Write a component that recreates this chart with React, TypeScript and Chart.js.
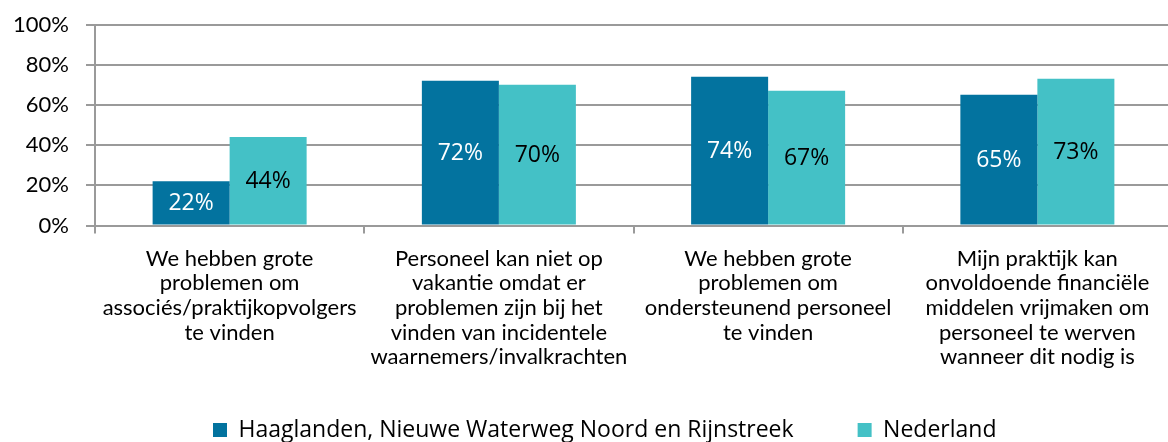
import { useEffect, useRef } from 'react';
import { Chart, registerables } from 'chart.js';

Chart.register(...registerables);

const categories: string[][] = [
  ['We hebben grote', 'problemen om', 'associés/praktijkopvolgers', 'te vinden'],
  ['Personeel kan niet op', 'vakantie omdat er', 'problemen zijn bij het', 'vinden van incidentele', 'waarnemers/invalkrachten'],
  ['We hebben grote', 'problemen om', 'ondersteunend personeel', 'te vinden'],
  ['Mijn praktijk kan', 'onvoldoende financiële', 'middelen vrijmaken om', 'personeel te werven', 'wanneer dit nodig is'],
];
const seriesNames = ['Haaglanden, Nieuwe Waterweg Noord en Rijnstreek', 'Nederland'];
const haaglanden = [22, 72, 74, 65];
const nederland = [44, 70, 67, 73];
const seriesColors = ['#03739F', '#44C1C6'];
const labelColors = ['#ffffff', '#000000'];
const yMin = 0;
const yMax = 100;
const yStep = 20;

const AXIS_FONT = 'Lato';
const LEGEND_FONT = 'Open Sans';
const LEGEND_PAD = 64;
const LEGEND_SIZE = 23;
const X_AXIS_H = 146.5;
const CANVAS_W = 1180;
const CANVAS_H = Math.round(225.5 + X_AXIS_H + LEGEND_SIZE + LEGEND_PAD + 10);

const valueLabels = {
  id: 'valueLabels',
  afterDatasetsDraw(chart: any) {
    const ctx = chart.ctx;
    chart.data.datasets.forEach((ds: any, di: number) => {
      const meta = chart.getDatasetMeta(di);
      meta.data.forEach((bar: any, i: number) => {
        const { x, y, base } = bar.getProps(['x', 'y', 'base'], true);
        ctx.save();
        ctx.font = `23px "${LEGEND_FONT}"`;
        ctx.fillStyle = labelColors[di];
        ctx.textAlign = 'center';
        ctx.textBaseline = 'middle';
        ctx.fillText(`${ds.data[i]}%`, x, (y + base) / 2 + 1);
        ctx.restore();
      });
    });
  },
};

// move the legend box to where the reference places it
const legendPlacement = {
  id: 'legendPlacement',
  afterLayout(chart: any) {
    const lg = chart.legend;
    if (!lg) return;
    const dx = 213 - LEGEND_PAD - lg.left;
    const dy = 430 - (lg.top + LEGEND_PAD + LEGEND_SIZE / 2);
    lg.left += dx;
    lg.right += dx;
    lg.top += dy;
    lg.bottom += dy;
  },
};

export default function App() {
  const ref = useRef<HTMLCanvasElement | null>(null);
  useEffect(() => {
    if (!ref.current) return;
    const chart = new Chart(ref.current, {
      type: 'bar',
      data: {
        labels: categories,
        datasets: [
          {
            label: seriesNames[0],
            data: haaglanden,
            backgroundColor: seriesColors[0],
            borderWidth: 0,
            categoryPercentage: 0.572,
            barPercentage: 1,
          },
          {
            label: seriesNames[1],
            data: nederland,
            backgroundColor: seriesColors[1],
            borderWidth: 0,
            categoryPercentage: 0.572,
            barPercentage: 1,
          },
        ],
      },
      options: {
        responsive: false,
        animation: false,
        devicePixelRatio: 1,
        layout: { padding: { left: 0, right: 8, top: 24.5, bottom: 0 } },
        scales: {
          x: {
            grid: {
              drawOnChartArea: false,
              drawTicks: true,
              tickLength: 8,
              color: '#9a9a9a',
              lineWidth: 2,
            },
            border: { display: true, color: '#9a9a9a', width: 2 },
            ticks: {
              autoSkip: false,
              maxRotation: 0,
              minRotation: 0,
              padding: 13,
              color: '#000000',
              font: { family: AXIS_FONT, size: 22, lineHeight: '24.6px' as any },
            },
            afterFit: (scale: any) => {
              scale.height = X_AXIS_H;
            },
          },
          y: {
            min: yMin,
            max: yMax,
            ticks: {
              stepSize: yStep,
              padding: 17,
              color: '#000000',
              font: { family: AXIS_FONT, size: 22, lineHeight: '14px' as any },
              callback: (v: any) => `${v}%`,
            },
            grid: { color: '#9a9a9a', lineWidth: 2, tickLength: 9 },
            border: { display: true, color: '#9a9a9a', width: 2 },
            afterFit: (scale: any) => {
              scale.width = 95;
            },
          },
        },
        plugins: {
          legend: {
            position: 'bottom',
            align: 'start',
            labels: {
              boxWidth: 14,
              boxHeight: 14,
              padding: LEGEND_PAD,
              color: '#000000',
              font: { family: LEGEND_FONT, size: LEGEND_SIZE },
            },
          },
          tooltip: { enabled: false },
        },
      },
      plugins: [valueLabels, legendPlacement],
    });
    return () => chart.destroy();
  }, []);
  return (
    <div style={{ position: 'fixed', left: 0, top: 0, width: CANVAS_W, height: CANVAS_H }}>
      <canvas ref={ref} width={CANVAS_W} height={CANVAS_H} />
    </div>
  );
}
